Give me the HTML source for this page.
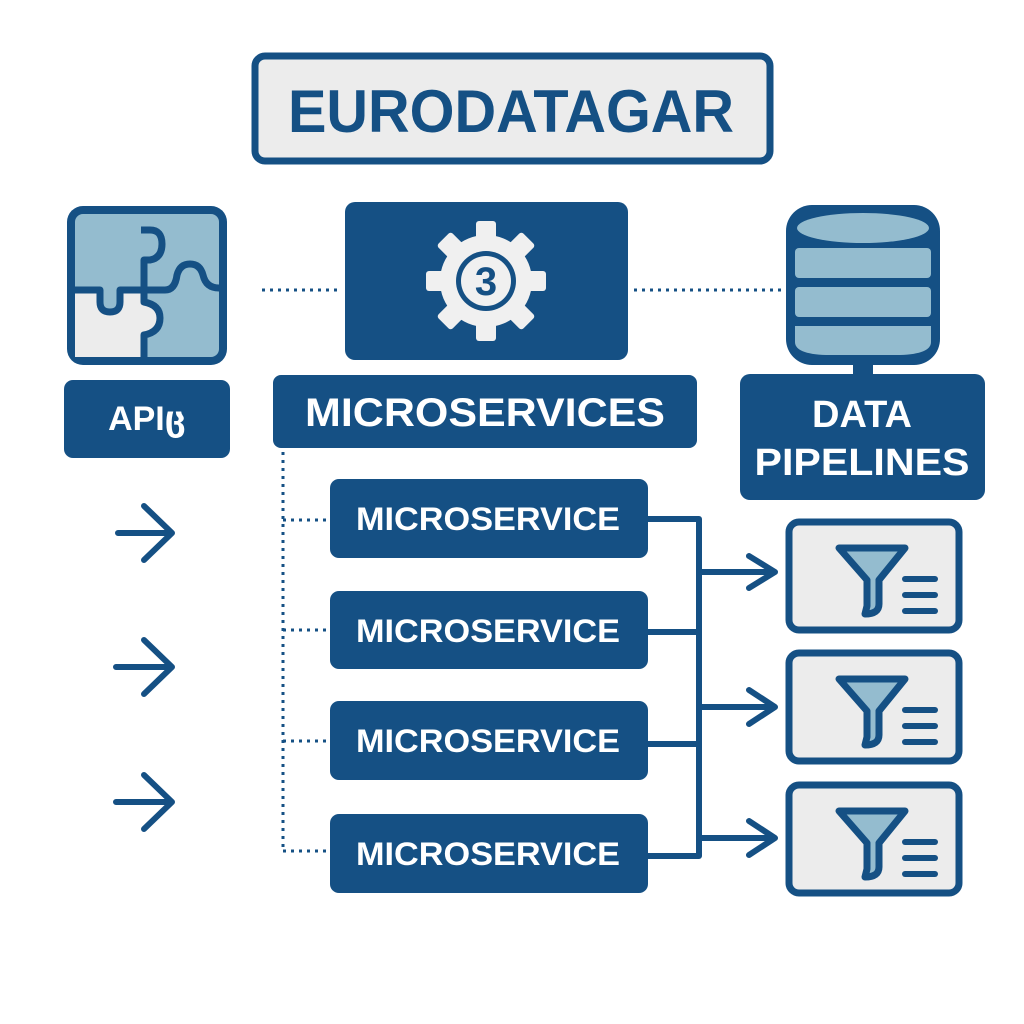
<!DOCTYPE html>
<html><head><meta charset="utf-8"><style>
html,body{margin:0;padding:0;background:#fff}
svg{display:block}
text{font-family:"Liberation Sans","DejaVu Sans",sans-serif;font-weight:bold}
</style></head><body>
<svg width="1024" height="1024" viewBox="0 0 1024 1024" xmlns="http://www.w3.org/2000/svg">
<defs>
<g id="funnel">
  <rect x="0" y="0" width="170" height="108" rx="10" fill="#ececec" stroke="#155084" stroke-width="7"/>
  <path d="M50,26 H116 L90,58 V82 Q90,92 76,92 L78,84 V58 Z" fill="#94bccf" stroke="#155084" stroke-width="7" stroke-linejoin="round"/>
  <g stroke="#155084" stroke-width="6" stroke-linecap="round">
    <line x1="116" y1="57" x2="146" y2="57"/>
    <line x1="116" y1="73" x2="146" y2="73"/>
    <line x1="116" y1="89" x2="146" y2="89"/>
  </g>
</g>
</defs>

<!-- Title -->
<rect x="255" y="56" width="515" height="105" rx="10" fill="#ececec" stroke="#155084" stroke-width="7"/>
<text x="511" y="132" text-anchor="middle" font-size="60" fill="#155084" textLength="446" lengthAdjust="spacingAndGlyphs">EURODATAGAR</text>

<!-- API puzzle -->
<rect x="67" y="206" width="160" height="159" rx="16" fill="#155084"/>
<rect x="75" y="214" width="144" height="143" rx="8" fill="#94bccf"/>
<path d="M75,290 H100 V302 Q100,312 110,312 Q120,312 120,302 V290 H144 V302 Q160,305 160,318 Q160,332 144,335 V357 H75 Z" fill="#ececec"/>
<g fill="none" stroke="#155084" stroke-width="7" stroke-linejoin="round">
  <path d="M141,230 H150 Q162,230 162,244 Q162,258 150,260 H144 V290"/>
  <path d="M75,290 H100 V302 Q100,312 110,312 Q120,312 120,302 V290 H144 V302 Q160,305 160,318 Q160,332 144,335 V357"/>
  <path d="M144,290 H165 Q175,290 177,275 Q180,264 190,264 Q200,264 203,275 Q206,288 219,288"/>
</g>
<rect x="64" y="380" width="166" height="78" rx="9" fill="#155084"/>
<text x="147" y="430" text-anchor="middle" font-size="34" fill="#fff">APIც</text>

<!-- dotted connectors -->
<g stroke="#155084" stroke-width="3" stroke-dasharray="3,5" fill="none">
  <line x1="262" y1="290" x2="340" y2="290"/>
  <line x1="634" y1="290" x2="782" y2="290"/>
  <line x1="283" y1="452" x2="283" y2="852"/>
  <line x1="283" y1="520" x2="328" y2="520"/>
  <line x1="283" y1="630" x2="328" y2="630"/>
  <line x1="283" y1="741" x2="328" y2="741"/>
  <line x1="283" y1="851" x2="328" y2="851"/>
</g>

<!-- Gear box -->
<rect x="345" y="202" width="283" height="158" rx="10" fill="#155084"/>
<g transform="translate(486,281)" fill="#f0f0f0">
  <circle r="46"/>
  <g>
    <rect x="-10" y="-60" width="20" height="120" rx="3"/>
    <rect x="-10" y="-60" width="20" height="120" rx="3" transform="rotate(45)"/>
    <rect x="-10" y="-60" width="20" height="120" rx="3" transform="rotate(90)"/>
    <rect x="-10" y="-60" width="20" height="120" rx="3" transform="rotate(135)"/>
  </g>
  <circle r="30" fill="#155084"/>
  <circle r="25" fill="#f0f0f0"/>
  <text x="0" y="14" text-anchor="middle" font-size="40" fill="#155084">3</text>
</g>
<rect x="273" y="375" width="424" height="73" rx="8" fill="#155084"/>
<text x="485" y="426" text-anchor="middle" font-size="40" fill="#fff" textLength="360" lengthAdjust="spacingAndGlyphs">MICROSERVICES</text>

<!-- Database -->
<rect x="786" y="205" width="154" height="160" rx="26" fill="#155084"/>
<ellipse cx="863" cy="228" rx="66" ry="15" fill="#94bccf"/>
<rect x="795" y="248" width="136" height="30" rx="4" fill="#94bccf"/>
<rect x="795" y="287" width="136" height="30" rx="4" fill="#94bccf"/>
<path d="M795,326 H931 V342 Q931,354 900,355 H826 Q795,354 795,342 Z" fill="#94bccf"/>
<rect x="853" y="360" width="20" height="18" fill="#155084"/>
<rect x="740" y="374" width="245" height="126" rx="10" fill="#155084"/>
<text x="862" y="427" text-anchor="middle" font-size="38" fill="#fff">DATA</text>
<text x="862" y="475" text-anchor="middle" font-size="38" fill="#fff" textLength="215" lengthAdjust="spacingAndGlyphs">PIPELINES</text>

<!-- left arrows -->
<g fill="none" stroke="#155084" stroke-width="6" stroke-linecap="round" stroke-linejoin="round">
  <path d="M118,533 H172 M144,506 L172,533 L144,560"/>
  <path d="M116,667 H172 M144,640 L172,667 L144,694"/>
  <path d="M116,802 H172 M144,775 L172,802 L144,829"/>
</g>

<!-- microservice boxes -->
<g fill="#155084">
  <rect x="330" y="479" width="318" height="79" rx="9"/>
  <rect x="330" y="591" width="318" height="78" rx="9"/>
  <rect x="330" y="701" width="318" height="79" rx="9"/>
  <rect x="330" y="814" width="318" height="79" rx="9"/>
</g>
<g font-size="32" fill="#fff" text-anchor="middle">
  <text x="488" y="530" textLength="264" lengthAdjust="spacingAndGlyphs">MICROSERVICE</text>
  <text x="488" y="642" textLength="264" lengthAdjust="spacingAndGlyphs">MICROSERVICE</text>
  <text x="488" y="752" textLength="264" lengthAdjust="spacingAndGlyphs">MICROSERVICE</text>
  <text x="488" y="865" textLength="264" lengthAdjust="spacingAndGlyphs">MICROSERVICE</text>
</g>

<!-- bus -->
<g fill="none" stroke="#155084" stroke-width="6" stroke-linejoin="round" stroke-linecap="round">
  <path d="M648,519 H699 V856 H648"/>
  <path d="M648,632 H699 M648,744 H699"/>
  <path d="M699,572 H772 M749,556 L775,572 L749,588"/>
  <path d="M699,707 H772 M749,690 L775,707 L749,724"/>
  <path d="M699,838 H772 M749,821 L775,838 L749,855"/>
</g>

<!-- filter boxes -->
<use href="#funnel" transform="translate(789,522)"/>
<use href="#funnel" transform="translate(789,653)"/>
<use href="#funnel" transform="translate(789,785)"/>
</svg>
</body></html>
